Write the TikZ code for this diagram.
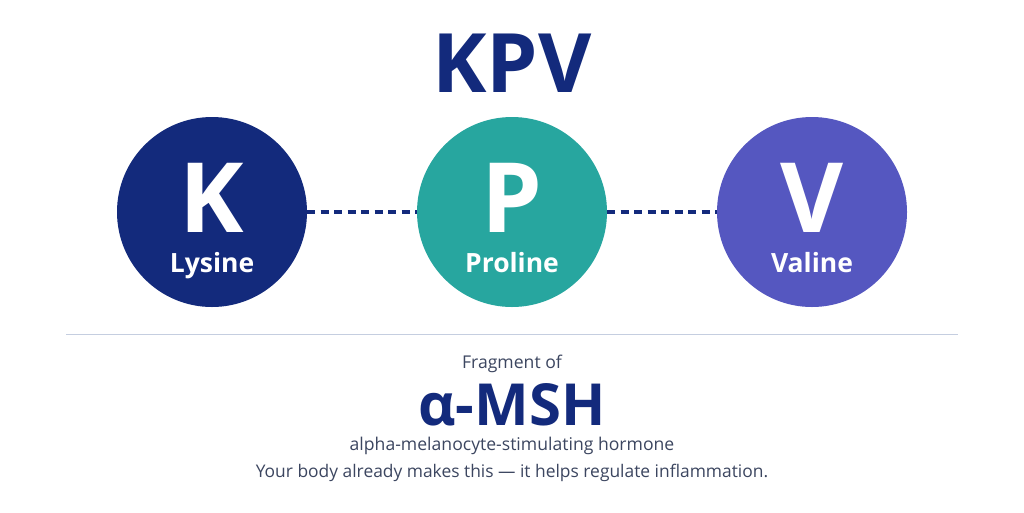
\documentclass[tikz,border=0pt]{standalone}
\usepackage{fontspec}
\setmainfont{Open Sans}
\definecolor{navy}{HTML}{132A7C}
\definecolor{teal}{HTML}{27A69F}
\definecolor{violet}{HTML}{5557C0}
\definecolor{slate}{HTML}{3C4660}
\definecolor{rule}{HTML}{C5CEE0}
\tikzstyle{acid}=[circle,minimum size=190pt,inner sep=0pt]
\tikzstyle{letter}=[font=\fontsize{97}{97}\selectfont\bfseries,text=white,anchor=base,inner sep=0pt]
\tikzstyle{fullname}=[font=\fontsize{26.5}{26.5}\selectfont\bfseries,text=white,anchor=base,inner sep=0pt]
\tikzstyle{link}=[draw,navy,line width=3.2pt,dash pattern=on 8pt off 5.5pt]
\tikzstyle{note}=[font=\fontsize{17.6}{17.6}\selectfont,text=slate,inner sep=1pt]
\begin{document}
\begin{tikzpicture}[x=1pt,y=-1pt]
    \useasboundingbox[fill=white] (0,0) rectangle (1024,512);
    % Title
    \node[font=\fontsize{82}{82}\selectfont\bfseries,text=navy] (title) at (512,63) {KPV};
    % First we draw the amino acids
    \foreach \pos/\name/\col/\full in {{(212,212)/K/navy/Lysine}, {(512,212)/P/teal/Proline}, {(812,212)/V/violet/Valine}}
    {
        \node[acid,fill=\col] (\name) at \pos {};
        \node[letter] (\name l) at ([yshift=-20pt]\name.center) {\name};
        \node[fullname] (\name n) at ([yshift=-60pt]\name.center) {\full};
    }
    % Connect them with dashed bonds
    \foreach \source/ \dest in {K/P,P/V}
        \path[link] (\source) -- (\dest);
    % Separator and caption
    \coordinate (rl) at (66,334);
    \coordinate (rr) at (958,334);
    \draw[rule,line width=1pt] (rl) -- (rr);
    \node[note] (frag) at (512,364) {Fragment of};
    \node[font=\fontsize{58}{58}\selectfont\bfseries,text=navy,inner sep=0pt] (msh) at (512,405) {α-MSH};
    \node[note] (alpha) at (512,446) {alpha-melanocyte-stimulating hormone};
    \node[note,font=\fontsize{17.4}{17.4}\selectfont] (body) at (512,473) {Your body already makes this — it helps regulate inflammation.};
\end{tikzpicture}
\end{document}
